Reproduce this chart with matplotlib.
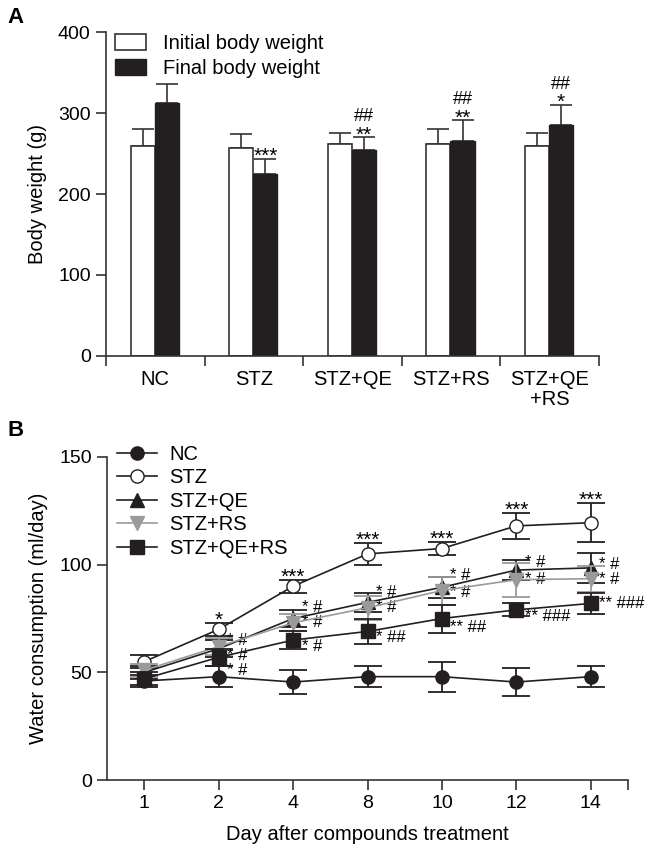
import numpy as np
import matplotlib
matplotlib.use("Agg")
import matplotlib.pyplot as plt
from matplotlib.patches import Patch
from matplotlib.lines import Line2D

plt.rcParams['font.family'] = ['Liberation Sans', 'DejaVu Sans']
plt.rcParams['font.size'] = 14

# ---- panel A data: body weight ----
groups = ['NC', 'STZ', 'STZ+QE', 'STZ+RS', 'STZ+QE\n+RS']
initial_bw = [259, 257, 262, 262, 260]
initial_err = [22, 17, 14, 19, 16]
final_bw = [312, 225, 255, 265, 286]
final_err = [24, 18, 15, 26, 24]
stars_a = ['', '***', '**', '**', '*']
hashes_a = ['', '', '##', '##', '##']

# ---- panel B data: water consumption ----
days = ['1', '2', '4', '8', '10', '12', '14']
nc = [46, 48, 45.5, 48, 48, 45.5, 48]
nc_err = [3, 5, 5.5, 5, 7, 6.5, 5]
stz = [55, 70, 90, 105, 107.5, 118, 119.5]
stz_err = [3, 3, 3, 5, 3, 6, 9]
qe = [50, 61, 75, 82.5, 89.5, 97.5, 98.5]
qe_err = [3, 4, 4, 4.5, 5, 4.5, 7]
rs = [51, 62, 73, 80, 88, 93, 93.5]
rs_err = [3, 4, 4, 5.5, 6.5, 8, 6]
qers = [47, 57, 65, 69, 75, 79, 82]
qers_err = [3, 4, 4, 6, 6.5, 3, 5]
stz_stars = ['', '*', '***', '***', '***', '***', '***']
qe_marks = ['', '* #', '* #', '* #', '* #', '* #', '* #']
rs_marks = ['', '* #', '* #', '* #', '* #', '* #', '* #']
qers_marks = ['', '* #', '* #', '* ##', '** ##', '** ###', '** ###']
# where the side labels sit (ml/day)
qe_mark_y = [0, 65, 80, 87, 95, 101, 100]
rs_mark_y = [0, 58, 73, 80, 87, 93, 93]
qers_mark_y = [0, 51, 62, 66, 71, 76, 82]

dark = '#231f20'
grey = '#9a9a9a'
axc = '#333333'

fig = plt.figure(figsize=(6.46, 8.51), dpi=100)

# ================= Panel A =================
axA = fig.add_axes([0.164, 0.582, 0.763, 0.380])
xc = np.arange(len(groups)) + 0.5
w = 0.245
xi = xc - w / 2 - 0.005
xf = xc + w / 2 - 0.005
axA.bar(xi, initial_bw, w, color='white', edgecolor=axc, linewidth=1.2, zorder=2)
axA.errorbar(xi, initial_bw, yerr=[np.zeros(5), initial_err], fmt='none', ecolor=axc,
             elinewidth=1.2, capsize=8, capthick=1.2, zorder=1)
axA.bar(xf, final_bw, w, color=dark, edgecolor=dark, linewidth=1.0, zorder=2)
axA.errorbar(xf, final_bw, yerr=[np.zeros(5), final_err], fmt='none', ecolor=axc,
             elinewidth=1.2, capsize=8, capthick=1.2, zorder=1)

for x, v, e, s, h in zip(xf, final_bw, final_err, stars_a, hashes_a):
    if s:
        axA.annotate(s, (x, v + e), xytext=(0, -5), textcoords='offset points',
                     ha='center', va='bottom', fontsize=15)
    if h:
        axA.annotate(h, (x, v + e), xytext=(0, 9), textcoords='offset points',
                     ha='center', va='bottom', fontsize=13)

axA.set_xlim(0, len(groups))
axA.set_ylim(0, 400)
axA.set_yticks([0, 100, 200, 300, 400])
axA.set_xticks(np.arange(len(groups) + 1))
axA.set_xticklabels([])
axA.set_xticks(xc, minor=True)
axA.set_xticklabels(groups, minor=True, fontsize=14.5, linespacing=1.1)
axA.tick_params(axis='x', which='minor', length=0, pad=10)
axA.tick_params(axis='x', which='major', length=7, width=1.2, color=axc)
axA.tick_params(axis='y', length=7, width=1.2, color=axc, pad=4)
axA.set_ylabel('Body weight (g)', labelpad=8, fontsize=14.5)
for side in ['top', 'right']:
    axA.spines[side].set_visible(False)
for side in ['left', 'bottom']:
    axA.spines[side].set_linewidth(1.2)
    axA.spines[side].set_color(axc)

axA.legend(handles=[Patch(facecolor='white', edgecolor=axc, linewidth=1.2,
                          label='Initial body weight'),
                    Patch(facecolor=dark, edgecolor=dark, label='Final body weight')],
           loc='upper left', bbox_to_anchor=(-0.01, 1.04), frameon=False,
           handlelength=1.55, handleheight=0.85, handletextpad=0.85,
           labelspacing=0.3, borderaxespad=0.3, fontsize=14.5)

fig.text(0.012, 0.992, 'A', fontsize=16, fontweight='bold', va='top')

# ================= Panel B =================
axB = fig.add_axes([0.166, 0.0834, 0.806, 0.3796])
x = np.arange(1, len(days) + 1)

series = [
    ('NC', nc, nc_err, 'o', dark, dark, dark),
    ('STZ', stz, stz_err, 'o', 'white', dark, dark),
    ('STZ+QE', qe, qe_err, '^', dark, dark, dark),
    ('STZ+RS', rs, rs_err, 'v', grey, grey, grey),
    ('STZ+QE+RS', qers, qers_err, 's', dark, dark, dark),
]
handles = []
for i, (lab, m, e, mk, fc, ec, lc) in enumerate(series):
    axB.errorbar(x, m, yerr=e, fmt='-', marker=mk, color=lc, markerfacecolor=fc,
                 markeredgecolor=ec, markersize=9.5, linewidth=1.2, elinewidth=1.3,
                 capsize=10, capthick=1.3, zorder=3 + i)
    handles.append(Line2D([], [], color=lc, marker=mk, markerfacecolor=fc,
                          markeredgecolor=ec, markersize=9.5, linewidth=1.2, label=lab))

for xi_, m, e, s in zip(x, stz, stz_err, stz_stars):
    if s:
        axB.annotate(s, (xi_, m + e), xytext=(0, -5), textcoords='offset points',
                     ha='center', va='bottom', fontsize=15)

for marks, ys in [(qe_marks, qe_mark_y), (rs_marks, rs_mark_y), (qers_marks, qers_mark_y)]:
    for xi_, yv, s in zip(x, ys, marks):
        if s:
            axB.annotate(s, (xi_, yv), xytext=(6, 0), textcoords='offset points',
                         ha='left', va='center', fontsize=12)

axB.set_xlim(0.5, len(days) + 0.5)
axB.set_ylim(0, 150)
axB.set_yticks([0, 50, 100, 150])
axB.set_xticks(list(x) + [len(days) + 0.5])
axB.set_xticklabels(days + [''])
axB.tick_params(axis='both', length=7, width=1.2, color=axc, pad=4)
axB.set_xlabel('Day after compounds treatment', labelpad=9, fontsize=14.5)
axB.set_ylabel('Water consumption (ml/day)', labelpad=8, fontsize=14.5)
for side in ['top', 'right']:
    axB.spines[side].set_visible(False)
for side in ['left', 'bottom']:
    axB.spines[side].set_linewidth(1.2)
    axB.spines[side].set_color(axc)

axB.legend(handles=handles, loc='upper left', bbox_to_anchor=(-0.005, 1.075), frameon=False,
           handlelength=2.0, handletextpad=0.6, labelspacing=0.22, borderaxespad=0.2,
           fontsize=14.5)

fig.text(0.012, 0.507, 'B', fontsize=16, fontweight='bold', va='top')

fig.savefig('out.png', dpi=100)
